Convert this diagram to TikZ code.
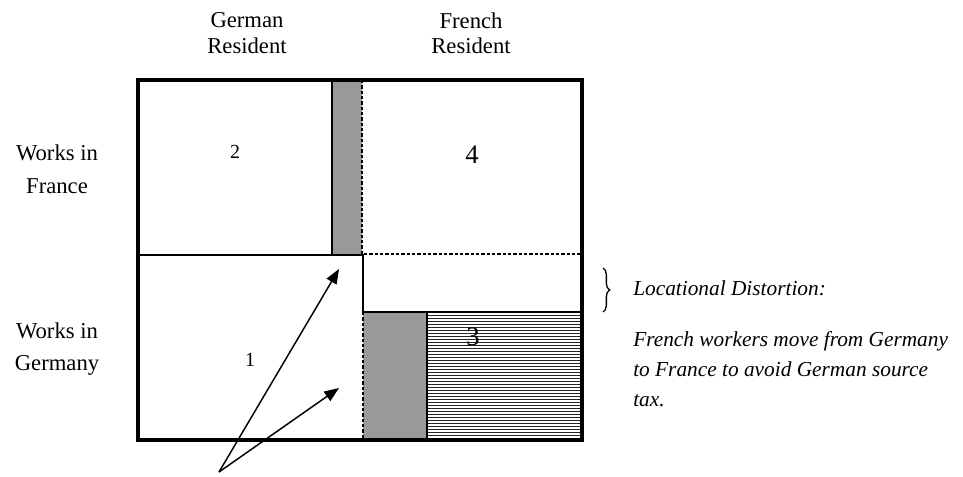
\documentclass[tikz,border=0pt]{standalone}
\usepackage{fontspec}
\setmainfont{Liberation Serif}
\usetikzlibrary{arrows.meta,decorations.pathreplacing}
\begin{document}
\begin{tikzpicture}[x=0.75pt,y=-0.75pt,
  outerline/.style={line width=2.4pt},
  innerline/.style={line width=1.6pt},
  dashline/.style={line width=1.2pt,dash pattern=on 2.4pt off 1.6pt},
  hatchline/.style={line width=0.55pt,black!85},
  grayblock/.style={fill=black!40,draw=none},
  hdr/.style={font=\fontsize{17}{19}\selectfont,align=center,inner sep=0pt},
  side/.style={font=\fontsize{17}{24.5}\selectfont,align=center,inner sep=0pt},
  bignum/.style={font=\fontsize{20}{22}\selectfont,inner sep=0pt},
  smallnum/.style={font=\fontsize{15}{17}\selectfont,inner sep=0pt},
  note/.style={font=\fontsize{16}{22.5}\selectfont\itshape,align=left,inner sep=0pt},
  arrowline/.style={-{Triangle[length=11pt,width=8.5pt]},line width=1.1pt}]
\useasboundingbox (0,0) rectangle (963,476);

% fills
\fill[grayblock] (332,80) rectangle (362,255);
\fill[grayblock] (363,312) rectangle (427,440);
\foreach \yy in {315,318,...,438} \draw[hatchline] (427,\yy) -- (582,\yy);

% inner lines
\draw[innerline] (332,80) -- (332,255);
\draw[innerline] (138,255) -- (363,255) -- (363,312) -- (582,312);
\draw[innerline] (427,312) -- (427,440);
\draw[dashline] (362,80) -- (362,254) -- (582,254);
\draw[dashline] (363,312) -- (363,440);

% outer border
\draw[outerline] (138,80) rectangle (582,440);

% labels
\node[hdr] (hG) at (247,33) {German\\Resident};
\node[hdr] (hF) at (471,33) {French\\Resident};
\node[side] (wF) at (57,169) {Works in\\France};
\node[side] (wG) at (57,349) {Works in\\Germany};
\node[smallnum] (n2) at (235,152) {2};
\node[bignum] (n4) at (472,155) {4};
\node[bignum] (n3) at (473,337) {3};
\node[smallnum] (n1) at (250,360) {1};

% brace and note
\draw[line width=1pt,decorate,decoration={brace,amplitude=5pt}] (603,268) -- (603,312);
\node[note,anchor=west] (loc) at (633,288) {Locational Distortion:};
\node[note,anchor=north west] (para) at (633,331) {French workers move from Germany\\to France to avoid German source\\tax.};

% arrows
\coordinate (orig) at (219,472);
\coordinate (tipA) at (339,269);
\coordinate (tipB) at (339,388);
\draw[arrowline] (orig) -- (tipA);
\draw[arrowline] (orig) -- (tipB);
\end{tikzpicture}
\end{document}
